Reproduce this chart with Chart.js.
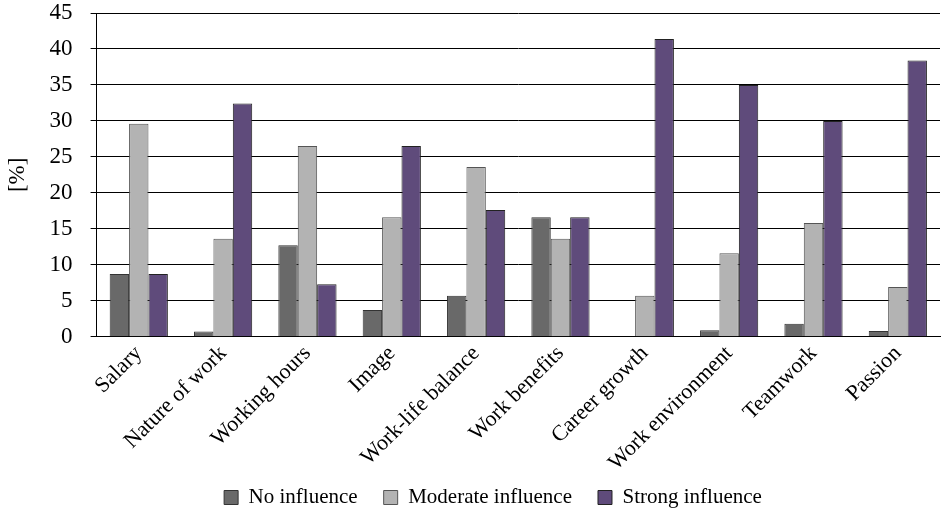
<!DOCTYPE html>
<html>
<head>
<meta charset="utf-8">
<script src="https://cdn.jsdelivr.net/npm/chart.js@4/dist/chart.umd.min.js"></script>
<style>
  html, body { margin: 0; padding: 0; background: #fff; }
  #wrap { width: 943px; height: 513px; position: relative; }
</style>
</head>
<body>
<div id="wrap"><canvas id="c"></canvas></div>
<script>
// Factors and share of respondents [%] per level of influence
const categories = ["Salary", "Nature of work", "Working hours", "Image", "Work-life balance",
                    "Work benefits", "Career growth", "Work environment", "Teamwork", "Passion"];
const noInfluence       = [8.7, 0.7, 12.7, 3.7, 5.7, 16.6, 0, 0.9, 1.8, 0.8];
const moderateInfluence = [29.6, 13.6, 26.5, 16.6, 23.6, 13.6, 5.7, 11.6, 15.8, 6.9];
const strongInfluence   = [8.7, 32.4, 7.3, 26.5, 17.6, 16.6, 41.4, 35.0, 30.0, 38.4];
const seriesNames = ["No influence", "Moderate influence", "Strong influence"];
const yTicks = [0, 5, 10, 15, 20, 25, 30, 35, 40, 45];

const FONT = "'Liberation Serif', 'DejaVu Serif', serif";

// The legend keeps wide gaps between its items; lift it closer to the axis labels
// and shift it a little to the right.
const legendNudge = {
  id: 'legendNudge',
  afterLayout(chart) {
    const lg = chart.legend;
    if (lg) {
      lg.top -= 19; lg.bottom -= 19;
      lg.left += 21; lg.right += 21;
    }
  }
};

new Chart(document.getElementById('c'), {
  type: 'bar',
  data: {
    labels: categories,
    datasets: [
      { label: seriesNames[0], data: noInfluence, backgroundColor: '#696969', borderColor: '#333', borderWidth: 1 },
      { label: seriesNames[1], data: moderateInfluence, backgroundColor: '#b3b3b3', borderColor: '#555', borderWidth: 1 },
      { label: seriesNames[2], data: strongInfluence, backgroundColor: '#5f4b7b', borderColor: '#222', borderWidth: 1 }
    ]
  },
  options: {
    responsive: true,
    maintainAspectRatio: false,
    animation: false,
    layout: { padding: { left: 4, right: 3, top: 13, bottom: -24 } },
    datasets: { bar: { categoryPercentage: 0.69, barPercentage: 1.0 } },
    plugins: {
      tooltip: { enabled: false },
      legend: {
        position: 'bottom',
        labels: {
          color: '#000',
          font: { family: FONT, size: 21 },
          boxWidth: 14,
          boxHeight: 14,
          padding: 26,
          useBorderRadius: false
        }
      }
    },
    scales: {
      x: {
        afterFit: (axis) => { axis.paddingLeft = 0; axis.paddingRight = 0; },
        grid: { display: false, drawTicks: false },
        border: { display: true, color: '#000', width: 1 },
        ticks: {
          color: '#000',
          font: { family: FONT, size: 22 },
          minRotation: 45,
          maxRotation: 45,
          padding: 4
        }
      },
      y: {
        min: 0,
        max: 45,
        afterBuildTicks: (axis) => { axis.ticks = yTicks.map(v => ({ value: v })); },
        afterFit: (axis) => { axis.paddingTop = 0; axis.paddingBottom = 0; },
        grid: { color: '#000', lineWidth: 1, drawTicks: true, tickLength: 6 },
        border: { display: true, color: '#000', width: 1 },
        ticks: {
          color: '#000',
          font: { family: FONT, size: 23 },
          padding: 18
        },
        title: {
          display: true,
          text: '[%]',
          color: '#000',
          font: { family: FONT, size: 23 },
          padding: { top: 0, bottom: 0 }
        }
      }
    }
  },
  plugins: [legendNudge]
});
</script>
</body>
</html>
